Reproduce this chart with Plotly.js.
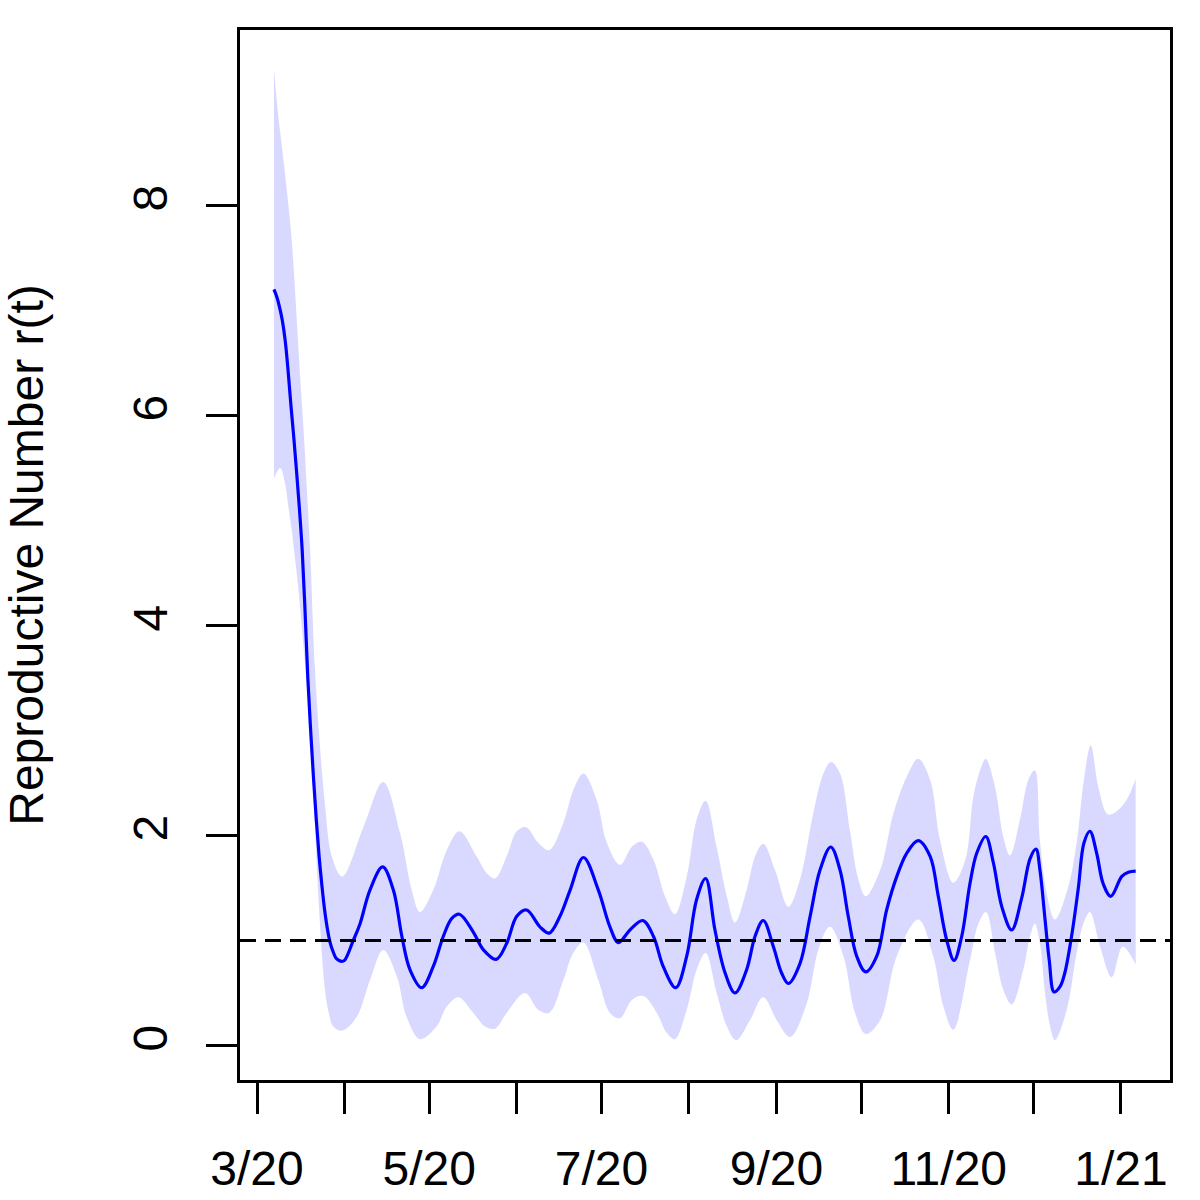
<!DOCTYPE html>
<html>
<head>
<meta charset="utf-8">
<script src="https://cdn.plot.ly/plotly-3.0.1.min.js"></script>
<style>
    body { margin: 0; background: #fff; }
    #myPlot { width: 1200px; height: 1200px; }
</style>
</head>
<body>
<div id="myPlot"></div>
<script>
// x values are days since 1 March 2020

// Estimated reproductive number r(t)
var dayMain = [6, 7, 8, 9, 10, 11, 12, 13, 14, 15, 16, 17, 18, 19, 20, 21, 22, 23, 24, 25, 26, 27, 28, 29, 30, 31,
    34.1, 36.5, 40.0, 44.5, 48.3, 51.3, 54.2, 58.3, 62.4, 66.0, 69.0, 71.7, 76.6, 80.2, 84.7, 88.4, 92.0, 95.5,
    100.2, 103.5, 107.3, 110.9, 115.6, 120.9, 125.0, 128.0, 132.1, 136.6, 140.4, 143.9, 148.3, 152.2, 155.7,
    158.9, 162.2, 165.8, 169.3, 173.4, 176.4, 179.3, 182.9, 185.8, 188.2, 192.3, 195.9, 199.4, 203.2, 206.5,
    209.4, 212.4, 215.6, 219.5, 223.0, 226.6, 230.1, 234.2, 238.4, 241.3, 244.3, 246.9, 249.6, 252.5, 254.9,
    258.1, 260.8, 263.8, 267.3, 270.8, 273.8, 275.9, 277.3, 279.1, 280.6, 282.3, 284.4, 286.1, 288.5, 290.9,
    292.9, 295.0, 297.4, 299.7, 302.4, 306.3, 308.6, 311.2];
var rMain = [7.20, 7.13, 7.03, 6.90, 6.71, 6.43, 6.10, 5.80, 5.47, 5.12, 4.72, 4.15, 3.50, 3.00, 2.55, 2.15, 1.80,
    1.52, 1.28, 1.10, 0.97, 0.89, 0.83, 0.81, 0.80, 0.81,
    1.00, 1.16, 1.48, 1.70, 1.48, 1.04, 0.72, 0.55, 0.75, 1.04, 1.21, 1.25, 1.08, 0.91, 0.82, 0.97, 1.23, 1.29,
    1.13, 1.07, 1.23, 1.48, 1.79, 1.48, 1.13, 0.98, 1.10, 1.19, 1.04, 0.75, 0.55, 0.85, 1.39,
    1.59, 1.10, 0.69, 0.50, 0.72, 1.04, 1.19, 0.94, 0.69, 0.59, 0.78, 1.23, 1.67, 1.89, 1.67,
    1.23, 0.85, 0.70, 0.85, 1.29, 1.61, 1.83, 1.95, 1.80, 1.42, 1.00, 0.81, 1.04, 1.54, 1.83,
    1.99, 1.74, 1.32, 1.10, 1.40, 1.78, 1.87, 1.67, 1.20, 0.81, 0.51, 0.56, 0.69, 1.04, 1.50,
    1.93, 2.04, 1.83, 1.54, 1.42, 1.61, 1.65, 1.66];

// Upper edge of the band
var dayUpper = [6.0, 7.2, 9.9, 12.3, 13.8, 15.2, 16.7, 18.0, 18.8, 20.5, 22.3, 24.1, 26.5, 30.2, 37.7, 44.7,
    50.7, 54.8, 57.7, 62.4, 67.2, 71.7, 77.8, 81.4, 84.3, 88.4, 92.0, 95.2, 99.6, 103.5, 108.5, 112.0, 115.6,
    120.3, 123.9, 128.6, 132.7, 136.3, 140.4, 144.5, 148.0, 152.2, 155.7, 158.9, 162.8, 166.4, 169.3, 173.4,
    176.4, 179.3, 183.5, 188.2, 192.3, 197.0, 200.6, 203.3, 206.5, 210.0, 213.0, 215.6, 220.7, 225.4, 230.1,
    234.2, 238.4, 241.9, 246.6, 250.9, 253.7, 256.1, 258.1, 261.4, 264.3, 266.7, 270.2, 273.2, 275.5, 277.3,
    279.7, 282.6, 287.2, 290.4, 292.7, 295.3, 298.0, 301.5, 305.7, 308.6, 311.2];
var rUpper = [9.31, 8.94, 8.31, 7.67, 7.04, 6.40, 5.77, 5.13, 4.73, 3.60, 2.85, 2.29, 1.80, 1.61, 2.08, 2.51,
    2.02, 1.48, 1.27, 1.48, 1.86, 2.04, 1.80, 1.64, 1.59, 1.80, 2.04, 2.08, 1.93, 1.86, 2.12, 2.43, 2.59,
    2.34, 1.93, 1.72, 1.89, 1.94, 1.77, 1.42, 1.25, 1.61, 2.15, 2.33, 1.89, 1.42, 1.17, 1.48,
    1.80, 1.92, 1.67, 1.32, 1.58, 2.21, 2.59, 2.70, 2.59, 2.05, 1.58, 1.42, 1.67, 2.21, 2.56,
    2.73, 2.53, 1.96, 1.55, 1.77, 2.37, 2.62, 2.73, 2.46, 1.99, 1.81, 2.15, 2.53, 2.62, 1.95,
    1.45, 1.20, 1.50, 1.95, 2.50, 2.86, 2.46, 2.20, 2.26, 2.37, 2.54];

// Lower edge of the band
var dayLower = [6.0, 8.2, 9.9, 11.1, 12.3, 13.1, 14.6, 16.3, 18.2, 19.4, 20.5, 22.3, 24.1, 25.5, 27.0, 30.2,
    35.3, 40.0, 44.7, 49.5, 53.0, 57.7, 63.6, 67.2, 71.3, 76.6, 80.8, 84.3, 88.4, 94.9, 99.6, 103.5, 108.5,
    112.0, 115.6, 120.9, 125.0, 128.6, 132.7, 136.8, 141.6, 145.1, 148.0, 152.2, 155.7, 158.9, 162.8, 166.4,
    169.7, 174.6, 179.3, 184.1, 188.8, 194.7, 198.8, 202.9, 207.7, 211.8, 215.6, 220.7, 226.6, 234.2, 239.5,
    243.1, 246.6, 252.5, 255.5, 258.2, 261.4, 264.3, 267.3, 271.4, 273.8, 275.5, 277.3, 279.1, 280.9, 282.6,
    286.8, 290.3, 292.7, 295.0, 298.6, 302.7, 306.6, 311.2];
var rLower = [5.40, 5.50, 5.36, 5.13, 4.91, 4.72, 4.36, 3.85, 3.23, 2.70, 2.10, 1.16, 0.52, 0.30, 0.18, 0.14,
    0.27, 0.62, 0.91, 0.66, 0.27, 0.06, 0.18, 0.37, 0.46, 0.31, 0.18, 0.16, 0.31, 0.50, 0.34, 0.31, 0.62,
    0.88, 0.98, 0.62, 0.31, 0.26, 0.43, 0.47, 0.31, 0.12, 0.06, 0.34, 0.72, 0.88, 0.50, 0.18,
    0.05, 0.24, 0.46, 0.24, 0.08, 0.40, 0.91, 1.13, 0.85, 0.31, 0.11, 0.24, 0.85, 1.20, 0.85,
    0.37, 0.15, 0.81, 1.16, 1.27, 0.88, 0.53, 0.39, 0.72, 1.04, 1.16, 0.97, 0.50, 0.18, 0.05,
    0.34, 0.88, 1.16, 1.27, 0.94, 0.65, 0.94, 0.77];

// Month starts and their labels (every other one is labelled)
var monthDays   = [0, 31, 61, 92, 122, 153, 184, 214, 245, 275, 306];
var monthLabels = ['3/20', '', '5/20', '', '7/20', '', '9/20', '', '11/20', '', '1/21'];
var rTicks      = [0, 2, 4, 6, 8];
var threshold   = 1;

var font = 'Liberation Sans, Arial, Helvetica, sans-serif';

function plot() {
    // lower edge first, the upper edge fills down to it
    var bandLow = {
        x: dayLower,
        y: rLower,
        type: 'scatter',
        mode: 'lines',
        line: { width: 0, shape: 'spline' },
        showlegend: false,
        hoverinfo: 'skip'
    };
    var bandHigh = {
        x: dayUpper,
        y: rUpper,
        type: 'scatter',
        mode: 'lines',
        line: { width: 0, shape: 'spline' },
        fill: 'tonexty',
        fillcolor: 'rgba(0,0,255,0.15)',
        showlegend: false,
        hoverinfo: 'skip'
    };
    var estimate = {
        x: dayMain,
        y: rMain,
        type: 'scatter',
        mode: 'lines',
        line: { color: '#0000ff', width: 3.2, shape: 'spline' },
        showlegend: false
    };

    var axisStyle = {
        showline: true,
        linecolor: 'black',
        linewidth: 3,
        mirror: true,
        showgrid: false,
        zeroline: false,
        ticks: 'outside',
        ticklen: 31,
        tickwidth: 3,
        tickcolor: 'black',
        tickfont: { family: font, size: 48, color: 'black' }
    };

    var layout = {
        width: 1200,
        height: 1200,
        margin: { l: 240, r: 30, t: 30, b: 120 },
        paper_bgcolor: 'white',
        plot_bgcolor: 'white',
        hovermode: false,
        xaxis: Object.assign({}, axisStyle, {
            range: [-6.02, 323.36],
            tickmode: 'array',
            tickvals: monthDays,
            ticktext: monthLabels,
            ticklabelstandoff: 13
        }),
        yaxis: Object.assign({}, axisStyle, {
            range: [-0.329, 9.671],
            tickmode: 'array',
            tickvals: rTicks,
            ticktext: rTicks.map(String),
            tickangle: -90,
            ticklabelstandoff: 20,
            title: {
                text: 'Reproductive Number r(t)',
                font: { family: font, size: 48, color: 'black' },
                standoff: 92
            }
        }),
        shapes: [{
            type: 'line',
            xref: 'paper', x0: 0, x1: 1,
            yref: 'y', y0: threshold, y1: threshold,
            line: { color: 'black', width: 3, dash: '16px,9px' }
        }]
    };

    var config = { staticPlot: true, displayModeBar: false };
    Plotly.newPlot('myPlot', [bandLow, bandHigh, estimate], layout, config);
}

plot();
</script>
</body>
</html>
